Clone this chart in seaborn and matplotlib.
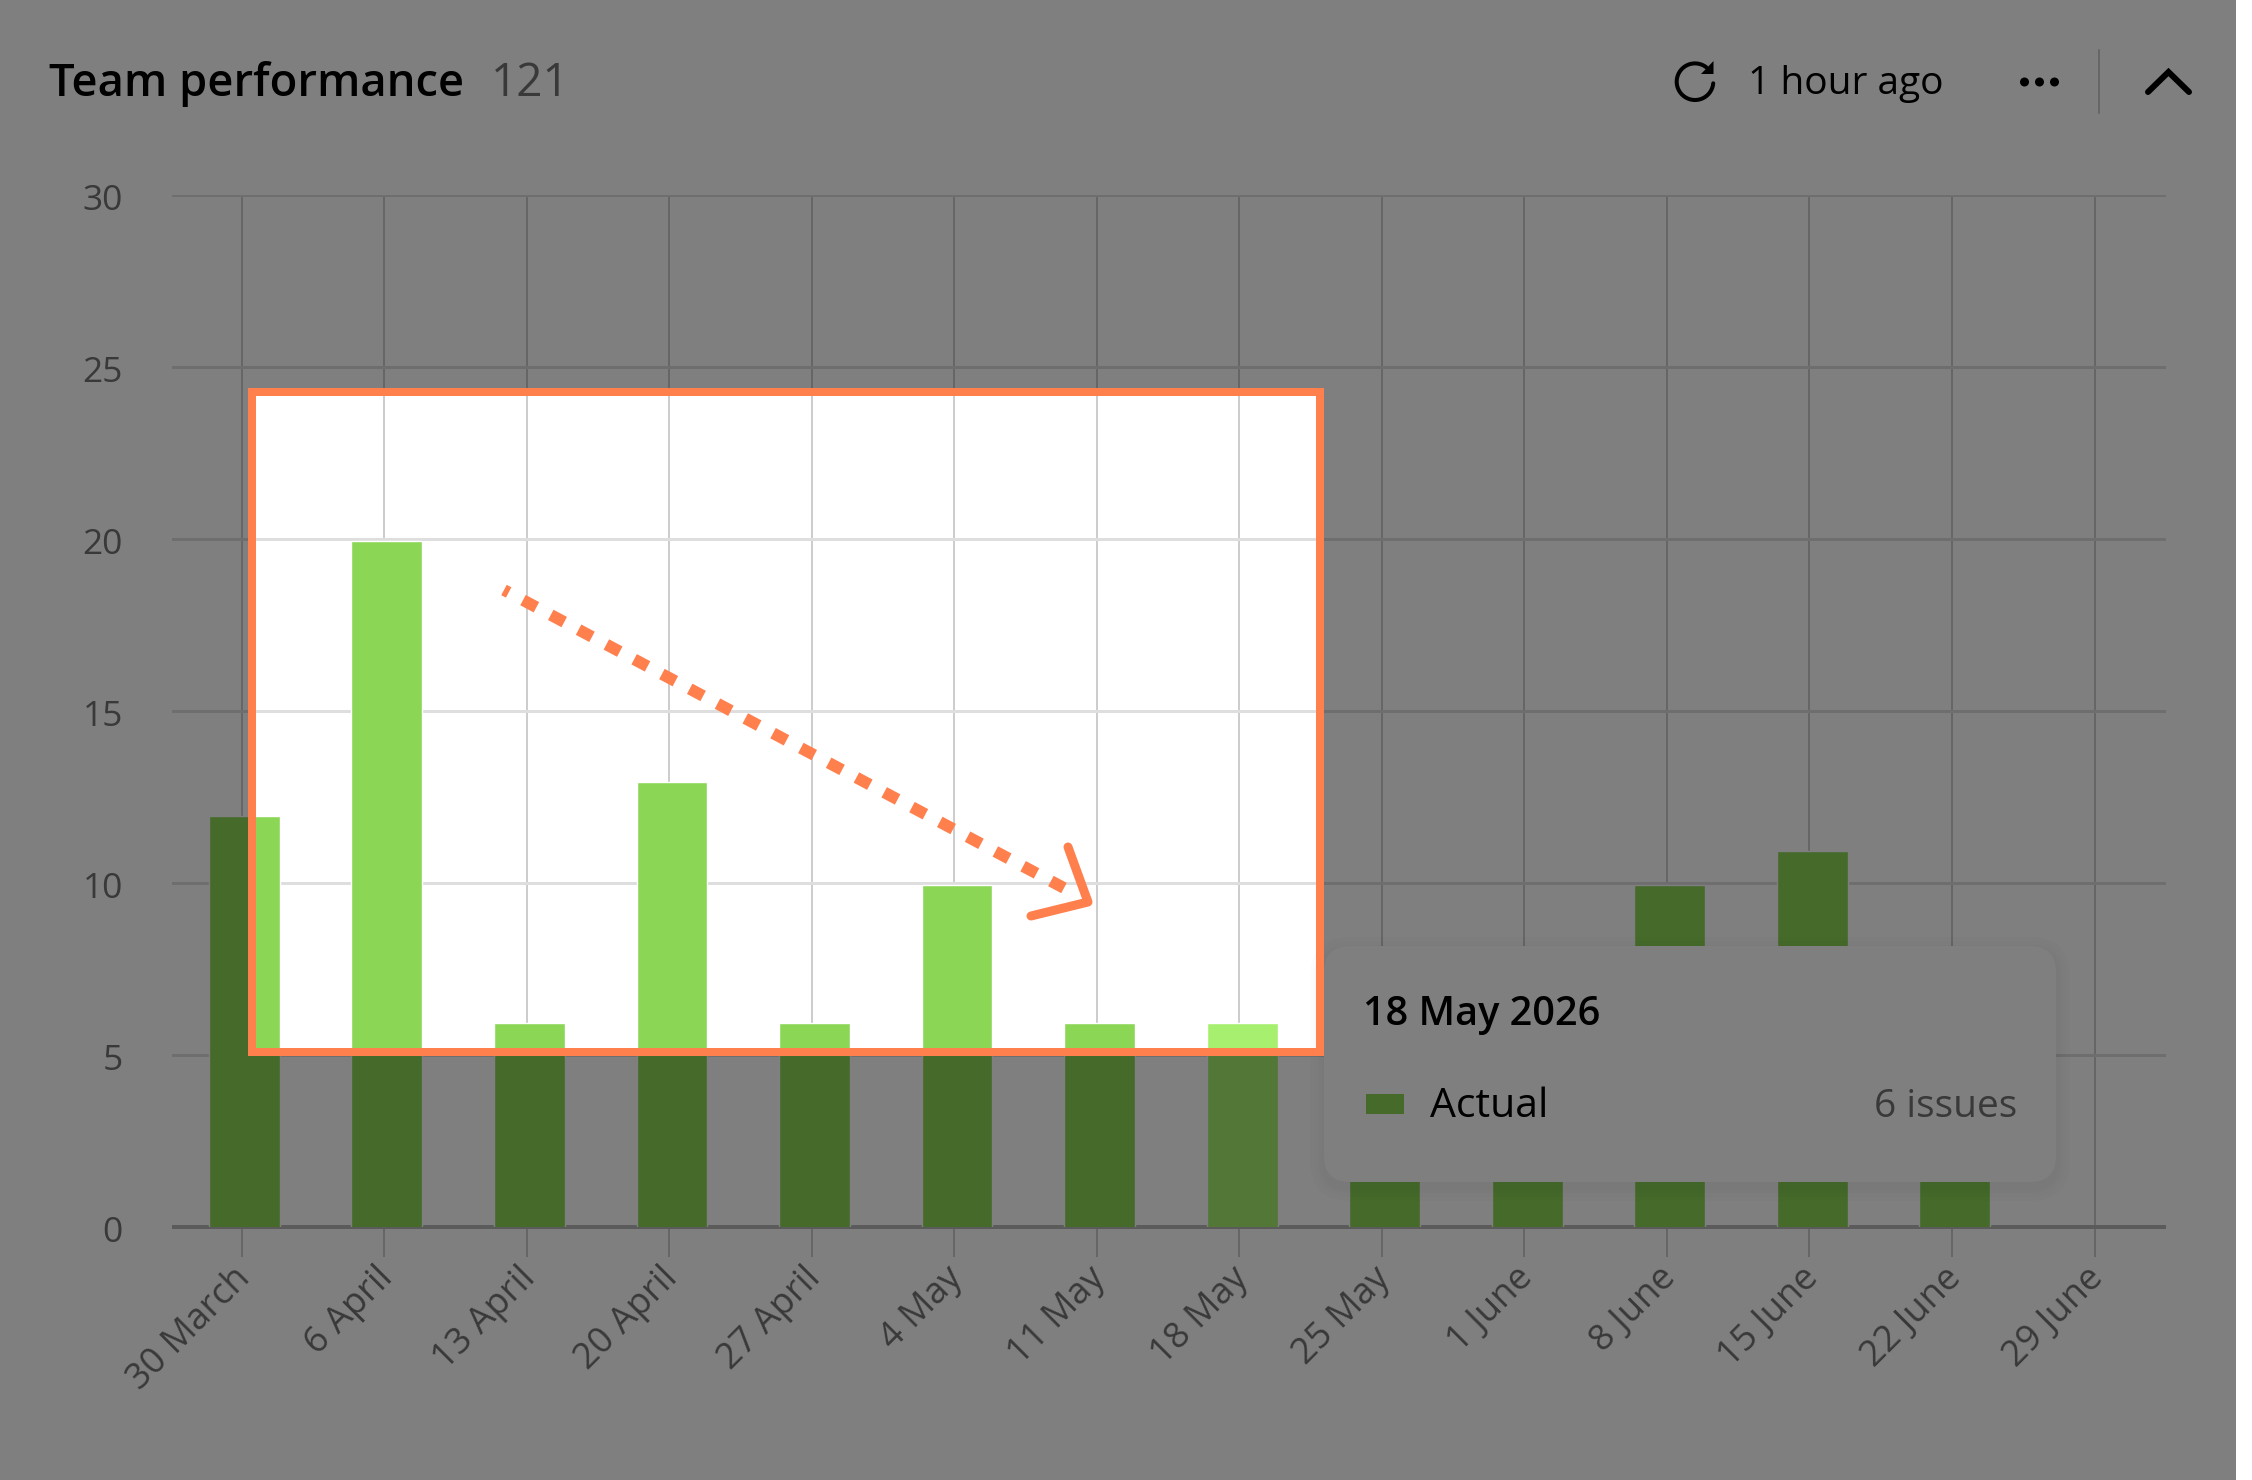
import numpy as np
import pandas as pd
import seaborn as sns
import matplotlib
matplotlib.use("Agg")
import matplotlib.pyplot as plt
from matplotlib.patches import FancyBboxPatch, PathPatch, Rectangle, Circle, Polygon
from matplotlib.path import Path
from matplotlib.transforms import ScaledTranslation

weeks = ["30 March", "6 April", "13 April", "20 April", "27 April", "4 May", "11 May",
         "18 May", "25 May", "1 June", "8 June", "15 June", "22 June", "29 June"]
issues = [12, 20, 6, 13, 6, 10, 6, 6, 7, 7, 10, 11, 7, 0]
highlight = "18 May"
yticks = [0, 5, 10, 15, 20, 25, 30]

W, H = 2252, 1480
CARD_R = 2236
PT = 0.72
BAR = "#8cd656"
BAR_HI = "#a7ef6e"
ORANGE = "#ff7f4d"
GREY_TEXT = "#737373"

sns.set_theme(style="white")
plt.rcParams["font.family"] = ["Open Sans", "DejaVu Sans"]

fig = plt.figure(figsize=(W / 100, H / 100), dpi=100, facecolor="white")
ax = fig.add_axes([172 / W, 1 - 1227 / H, (2166 - 172) / W, (1227 - 195) / H], zorder=1)
ax.set_facecolor("white")

df = pd.DataFrame({"week": weeks, "issues": issues})
palette = {w: (BAR_HI if w == highlight else BAR) for w in weeks}
sns.barplot(data=df, x="week", y="issues", hue="week", palette=palette, order=weeks,
            width=0.497, saturation=1, legend=False, ax=ax, zorder=3)
# bars sit a hair below the grid in the source rendering
bar_nudge = ScaledTranslation(0, -2 / 100, fig.dpi_scale_trans)
for bar in ax.patches:
    bar.set_transform(ax.transData + bar_nudge)

tick_shift = 0.02
ax.set_xticks(np.arange(len(weeks)) - tick_shift)
ax.set_xticklabels(weeks, rotation=45, ha="right", va="top", rotation_mode="anchor",
                   fontsize=26, color=GREY_TEXT)
ax.set_yticks(yticks)
ax.set_yticklabels([str(v) for v in yticks], fontsize=25.5, color=GREY_TEXT)
ax.set_xlim(-0.4876 - tick_shift, 13.5016 - tick_shift)
ax.set_ylim(0, 30)
ax.set_xlabel("")
ax.set_ylabel("")
ax.set_axisbelow(True)
ax.grid(axis="x", color="#cdcdcd", lw=2 * PT)
ax.grid(axis="y", color="#dedede", lw=3 * PT)
ax.tick_params(axis="x", length=30 * PT, width=2 * PT, color="#cdcdcd", pad=2.5, bottom=True)
ax.tick_params(axis="y", length=0, pad=49 * PT)
shift = ScaledTranslation(-9 / 100, 0, fig.dpi_scale_trans)
for lab in ax.get_xticklabels():
    lab.set_transform(lab.get_transform() + shift)
ylab_shift = ScaledTranslation(0, -2 / 100, fig.dpi_scale_trans)
for lab in ax.get_yticklabels():
    lab.set_transform(lab.get_transform() + ylab_shift)
for side in ["top", "left", "right"]:
    ax.spines[side].set_visible(False)
ax.spines["bottom"].set_color("#b8b8b8")
ax.spines["bottom"].set_linewidth(4 * PT)
ax.spines["bottom"].set_capstyle("butt")

# Everything drawn on top of the plot, in pixel coordinates of the picture
ov = fig.add_axes([0, 0, 1, 1], zorder=2)
ov.set_xlim(0, W)
ov.set_ylim(H, 0)
ov.axis("off")
ov.patch.set_alpha(0)

# header
ov.text(49, 84, "Team performance", fontsize=32.7, weight=600, color="#000000", va="center", ha="left")
ov.text(491, 84, "121", fontsize=33, weight=500, color=GREY_TEXT, va="center", ha="left")
ov.text(1748, 84, "1 hour ago", fontsize=28, weight=500, color="#000000", va="center", ha="left")
t = np.radians(np.linspace(5, 308, 80))
ov.plot(1695 + 18.3 * np.cos(t), 81.7 + 18.3 * np.sin(t), color="black", lw=4 * PT)
ov.add_patch(Polygon([(1713.5, 74), (1713.5, 61), (1701, 74)], closed=True, fc="black", lw=0))
for cx in (2024.5, 2039.5, 2054.5):
    ov.add_patch(Circle((cx, 82), 4.5, color="black", lw=0))
ov.plot([2098.5, 2098.5], [50, 113], color="#cdcdcd", lw=2 * PT)
ov.plot([2148, 2168.5, 2189], [92, 72, 92], color="black", lw=6 * PT, solid_capstyle="round",
        solid_joinstyle="miter")

# tooltip
tx, ty, tw, th = 1324, 946, 732, 236
for grow in (14, 10, 6, 3):
    ov.add_patch(FancyBboxPatch((tx - grow, ty - grow + 5), tw + 2 * grow, th + 2 * grow,
                                boxstyle="round,pad=0,rounding_size=%d" % (26 + grow),
                                fc="black", alpha=0.012, lw=0, zorder=2))
ov.add_patch(FancyBboxPatch((tx, ty), tw, th, boxstyle="round,pad=0,rounding_size=26",
                            fc="white", lw=0, zorder=3))
ov.text(1363, 1015, "18 May 2026", fontsize=28.5, weight=600, color="black", va="center", zorder=4)
ov.add_patch(Rectangle((1366, 1094), 38, 20, fc=BAR, lw=0, zorder=4))
ov.text(1430, 1107, "Actual", fontsize=29.5, weight=500, color="black", va="center", zorder=4)
ov.text(2017, 1107, "6 issues", fontsize=28, weight=500, color=GREY_TEXT, va="center", ha="right", zorder=4)

# dimming veil with the spotlight hole
x0, x1, y0, y1 = 252, 1320, 392, 1052
verts = [(0, 0), (CARD_R, 0), (CARD_R, H), (0, H), (0, 0),
         (x0, y0), (x0, y1), (x1, y1), (x1, y0), (x0, y0)]
codes = [Path.MOVETO, Path.LINETO, Path.LINETO, Path.LINETO, Path.CLOSEPOLY] * 2
ov.add_patch(PathPatch(Path(verts, codes), fc="black", alpha=0.5, lw=0, zorder=10))

# callout
ov.add_patch(Rectangle((x0, y0), x1 - x0, y1 - y0, fc="none", ec=ORANGE, lw=8 * PT, zorder=11,
                       joinstyle="miter"))
ov.plot([504, 1064], [590, 888], color=ORANGE, lw=11.7 * PT, linestyle=(0.85, (1.3, 1.39)),
        dash_capstyle="butt", zorder=11)
ov.plot([1068, 1088, 1031], [847, 902, 916], color=ORANGE, lw=9 * PT, solid_capstyle="round",
        solid_joinstyle="round", zorder=11)

fig.savefig("out.png", dpi=100, facecolor="white")
